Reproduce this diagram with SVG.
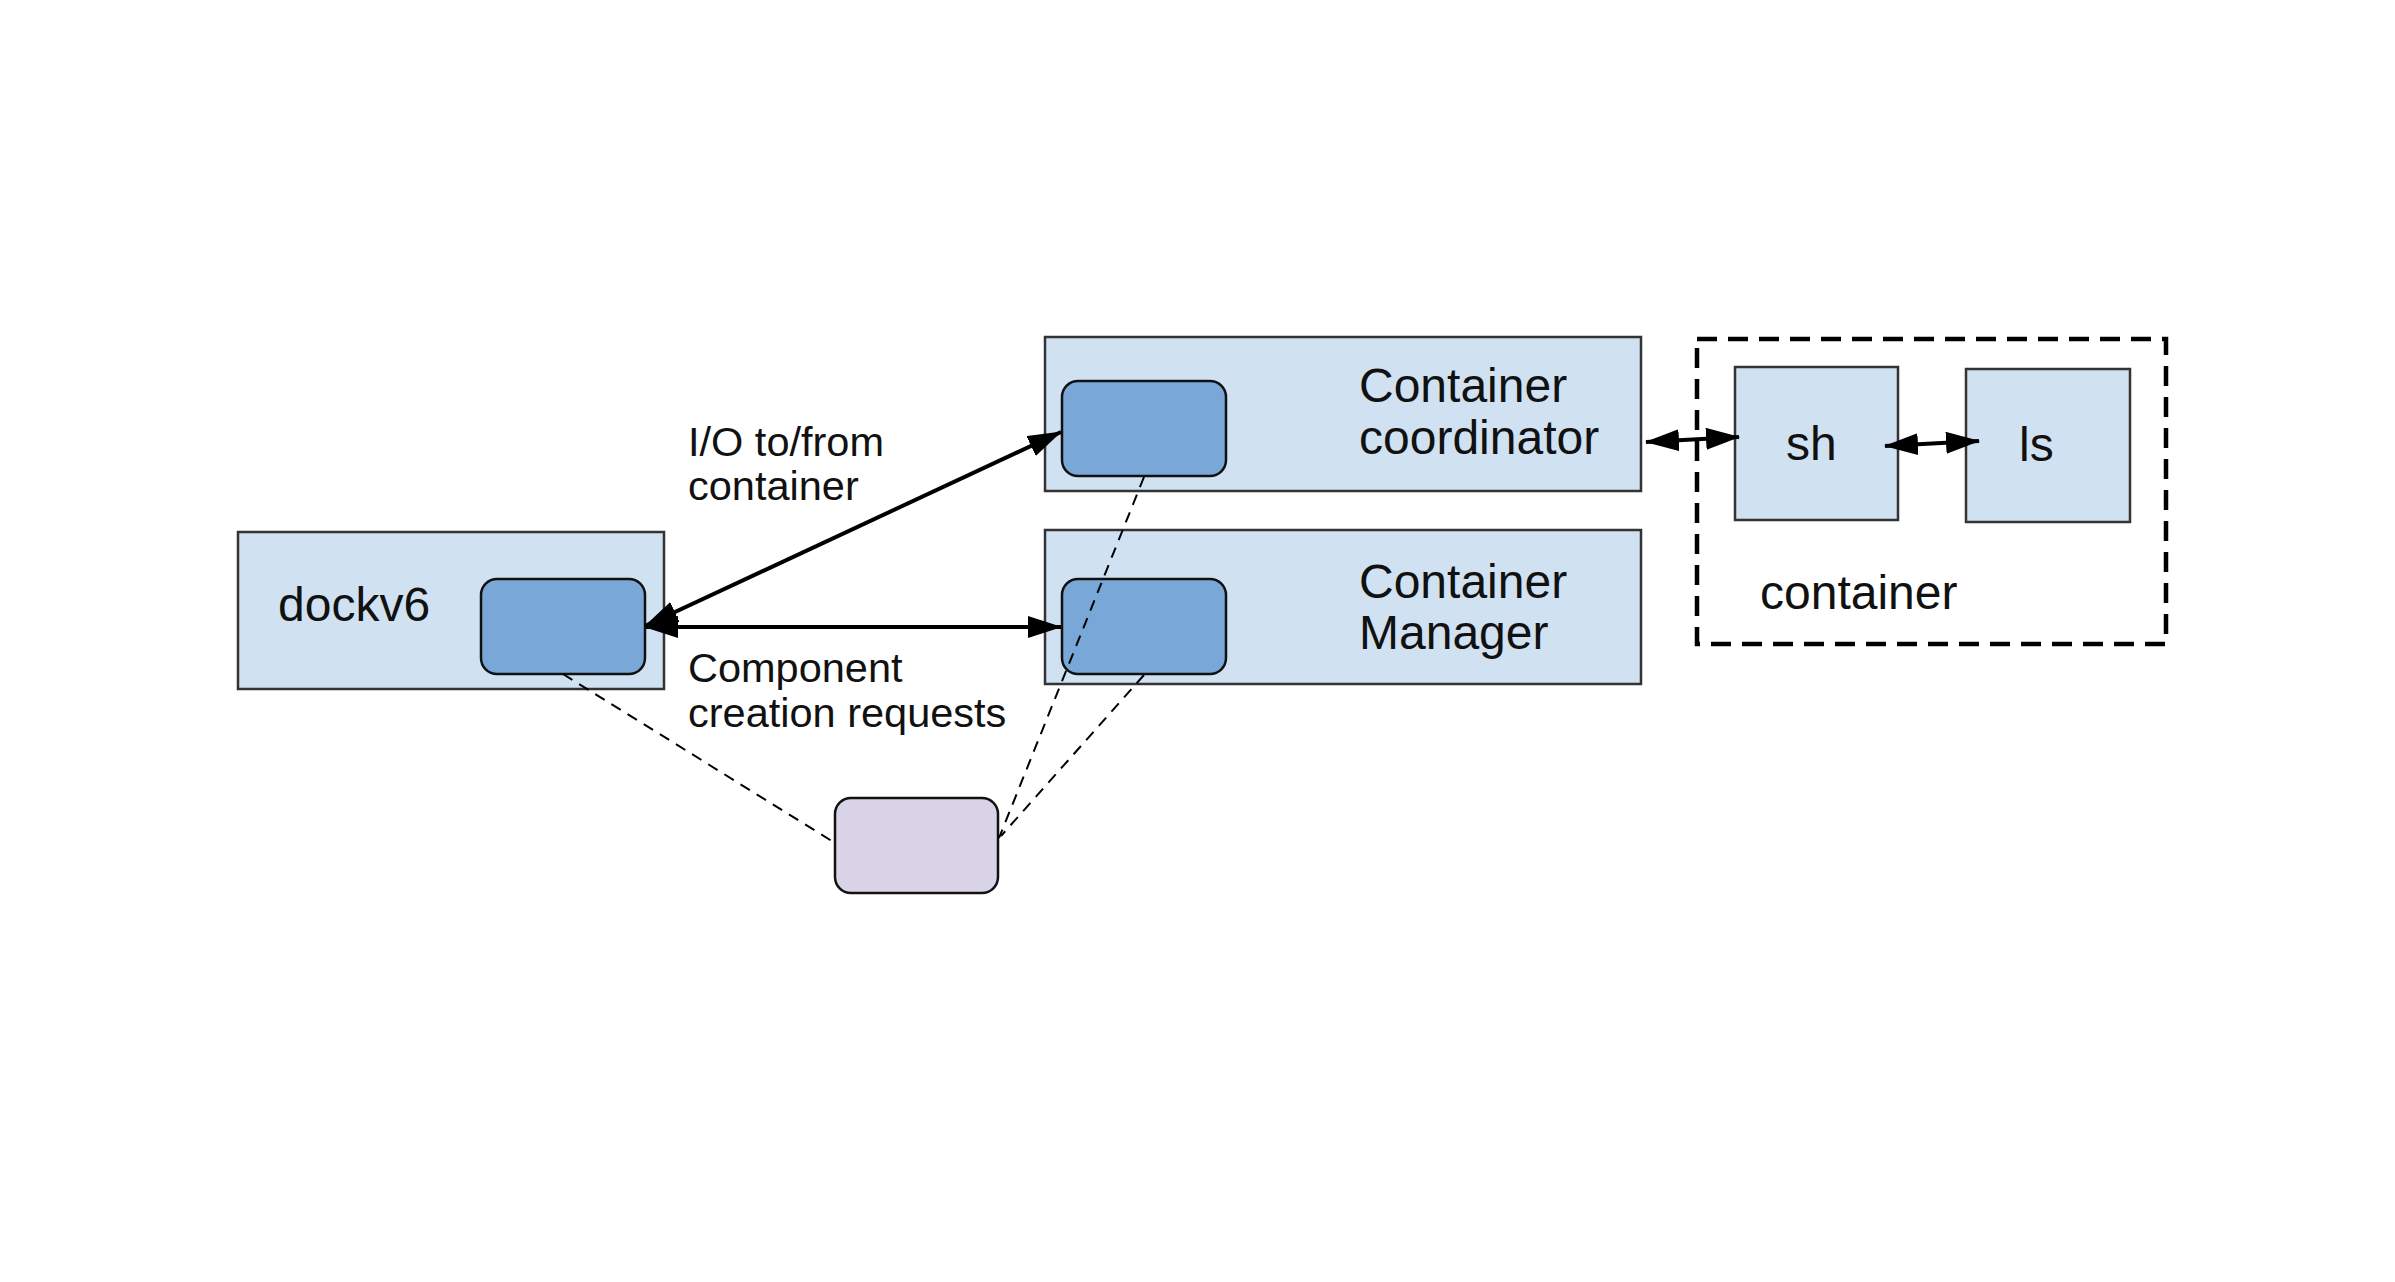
<svg xmlns="http://www.w3.org/2000/svg" width="2395" height="1282" viewBox="0 0 2395 1282">
<style>
.outer{fill:#d0e1f1;stroke:#333;stroke-width:2.5}
.inner{fill:#79a7d8;stroke:#111;stroke-width:2.5}
.purple{fill:#d9d3e8;stroke:#111;stroke-width:2.5}
.big{font-family:"Liberation Sans",Arial,sans-serif;font-size:48px;fill:#111}
.small{font-family:"Liberation Sans",Arial,sans-serif;font-size:41.5px;fill:#111}
.arrow{stroke:#000;stroke-width:4;fill:none;marker-start:url(#ah);marker-end:url(#ah)}
.dash{stroke:#000;stroke-width:2;fill:none;stroke-dasharray:11 8}
</style>
<defs>
<marker id="ah" markerUnits="userSpaceOnUse" markerWidth="34" markerHeight="22" viewBox="0 0 34 22" refX="33" refY="11" orient="auto-start-reverse">
<path d="M0,0 L34,11 L0,22 z" fill="#000"/>
</marker>
</defs>
<rect width="2395" height="1282" fill="#fff"/>
<g id="dockv6">
<rect class="outer" x="238" y="532" width="426" height="157"/>
<rect class="inner" x="481" y="579" width="164" height="95" rx="16"/>
<text class="big" x="278" y="621">dockv6</text>
</g>
<g id="container-coordinator">
<rect class="outer" x="1045" y="337" width="596" height="154"/>
<rect class="inner" x="1062" y="381" width="164" height="95" rx="16"/>
<text class="big" x="1359" y="402">Container</text>
<text class="big" x="1359" y="454">coordinator</text>
</g>
<g id="container-manager">
<rect class="outer" x="1045" y="530" width="596" height="154"/>
<rect class="inner" x="1062" y="579" width="164" height="95" rx="16"/>
<text class="big" x="1359" y="598">Container</text>
<text class="big" x="1359" y="649">Manager</text>
</g>
<g id="container">
<rect x="1697" y="339" width="469" height="305" fill="none" stroke="#000" stroke-width="4.5" stroke-dasharray="20 11"/>
<text class="big" x="1760" y="609">container</text>
</g>
<g id="sh">
<rect class="outer" x="1735" y="367" width="163" height="153"/>
<text class="big" x="1786" y="460">sh</text>
</g>
<g id="ls">
<rect class="outer" x="1966" y="369" width="164" height="153"/>
<text class="big" x="2019" y="461">ls</text>
</g>
<g id="store">
<rect class="purple" x="835" y="798" width="163" height="95" rx="16"/>
</g>
<g id="connectors">
<line class="arrow" x1="645" y1="626" x2="1061" y2="432"/>
<line class="arrow" x1="645" y1="627" x2="1061" y2="627"/>
<line class="arrow" x1="1646" y1="442" x2="1739" y2="437"/>
<line class="arrow" x1="1885" y1="446" x2="1979" y2="441"/>
<line class="dash" x1="563" y1="674" x2="835" y2="843"/>
<line class="dash" x1="1144" y1="477" x2="999" y2="838"/>
<line class="dash" x1="1144" y1="675" x2="1001" y2="836"/>
</g>
<g id="labels">
<text class="small" x="688" y="456">I/O to/from</text>
<text class="small" x="688" y="500">container</text>
<text class="small" x="688" y="682">Component</text>
<text class="small" x="688" y="727">creation requests</text>
</g>
</svg>
